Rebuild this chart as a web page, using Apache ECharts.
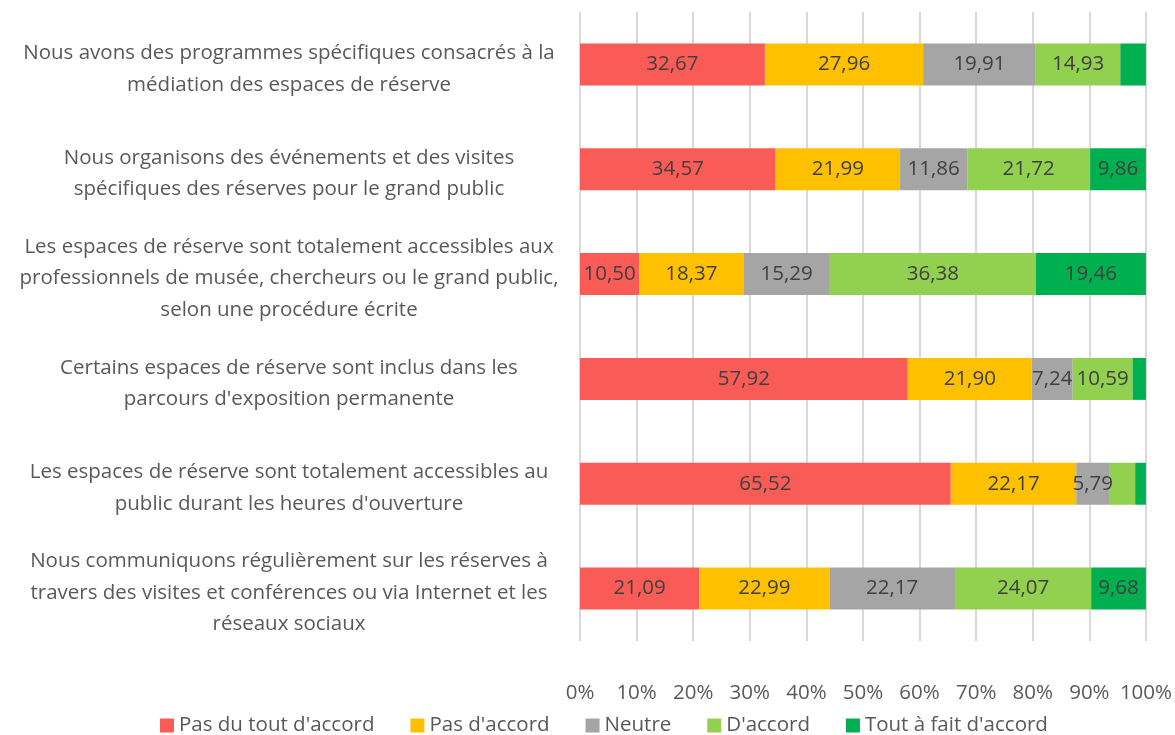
<!DOCTYPE html>
<html>
<head>
<meta charset="utf-8">
<script src="https://cdn.jsdelivr.net/npm/echarts@6/dist/echarts.min.js"></script>
<style>
  html, body { margin: 0; padding: 0; background: #fff; }
  #chart { width: 1175px; height: 735px; }
</style>
</head>
<body>
<div id="chart"></div>
<script>
// Statements, top to bottom
const categories = [
  "Nous avons des programmes spécifiques consacrés à la\nmédiation des espaces de réserve",
  "Nous organisons des événements et des visites\nspécifiques des réserves pour le grand public",
  "Les espaces de réserve sont totalement accessibles aux\nprofessionnels de musée, chercheurs ou le grand public,\nselon une procédure écrite",
  "Certains espaces de réserve sont inclus dans les\nparcours d'exposition permanente",
  "Les espaces de réserve sont totalement accessibles au\npublic durant les heures d'ouverture",
  "Nous communiquons régulièrement sur les réserves à\ntravers des visites et conférences ou via Internet et les\nréseaux sociaux"
];

// Share of answers (%) per statement
const pasDuTout   = [32.67, 34.57, 10.50, 57.92, 65.52, 21.09];
const pasDAccord  = [27.96, 21.99, 18.37, 21.90, 22.17, 22.99];
const neutre      = [19.91, 11.86, 15.29,  7.24,  5.79, 22.17];
const dAccord     = [14.93, 21.72, 36.38, 10.59,  4.62, 24.07];
const toutAFait   = [ 4.53,  9.86, 19.46,  2.35,  1.90,  9.68];

const seriesNames = ["Pas du tout d'accord", "Pas d'accord", "Neutre", "D'accord", "Tout à fait d'accord"];
const seriesData = [pasDuTout, pasDAccord, neutre, dAccord, toutAFait];
const colors = ["#F95C57", "#FFC000", "#A5A5A5", "#92D050", "#00B050"];

const xTicks = [0, 10, 20, 30, 40, 50, 60, 70, 80, 90, 100];

const font = "'Open Sans', sans-serif";
const fs = 20.5;

const chart = echarts.init(document.getElementById('chart'), null, { renderer: 'canvas' });

chart.setOption({
  animation: false,
  color: colors,
  textStyle: { fontFamily: font },
  grid: { left: 580, right: 28, top: 12, bottom: 94, containLabel: false },
  legend: {
    top: 710,
    left: 155,
    itemWidth: 14,
    itemHeight: 14,
    itemGap: 36,
    icon: 'rect',
    textStyle: { fontSize: fs, color: '#595959', fontFamily: font },
    data: seriesNames
  },
  xAxis: {
    type: 'value',
    min: xTicks[0],
    max: xTicks[xTicks.length - 1],
    interval: 10,
    axisLine: { show: false },
    axisTick: { show: false },
    splitLine: { show: true, lineStyle: { color: '#D9D9D9', width: 2 } },
    axisLabel: {
      fontSize: fs,
      color: '#595959',
      margin: 42,
      formatter: v => v + '%'
    }
  },
  yAxis: {
    type: 'category',
    inverse: true,
    data: categories,
    axisLine: { show: false },
    axisTick: { show: false },
    axisLabel: {
      align: 'center',
      margin: 291,
      // a thin spacer row on top nudges the centred text block slightly down
      formatter: v => '{s| }\n' + v.split('\n').map(l => '{t|' + l + '}').join('\n'),
      rich: {
        s: { fontSize: 2, lineHeight: 9 },
        t: { fontSize: fs, lineHeight: 31.5, color: '#595959', fontFamily: font, align: 'center' }
      }
    }
  },
  series: seriesNames.map((name, i) => ({
    name: name,
    type: 'bar',
    stack: 'total',
    barWidth: '40%',
    data: seriesData[i],
    label: {
      show: true,
      position: 'inside',
      fontSize: fs,
      color: '#404040',
      fontFamily: font,
      formatter: p => p.value < 5 ? '' : p.value.toFixed(2).replace('.', ',')
    }
  }))
});
</script>
</body>
</html>
